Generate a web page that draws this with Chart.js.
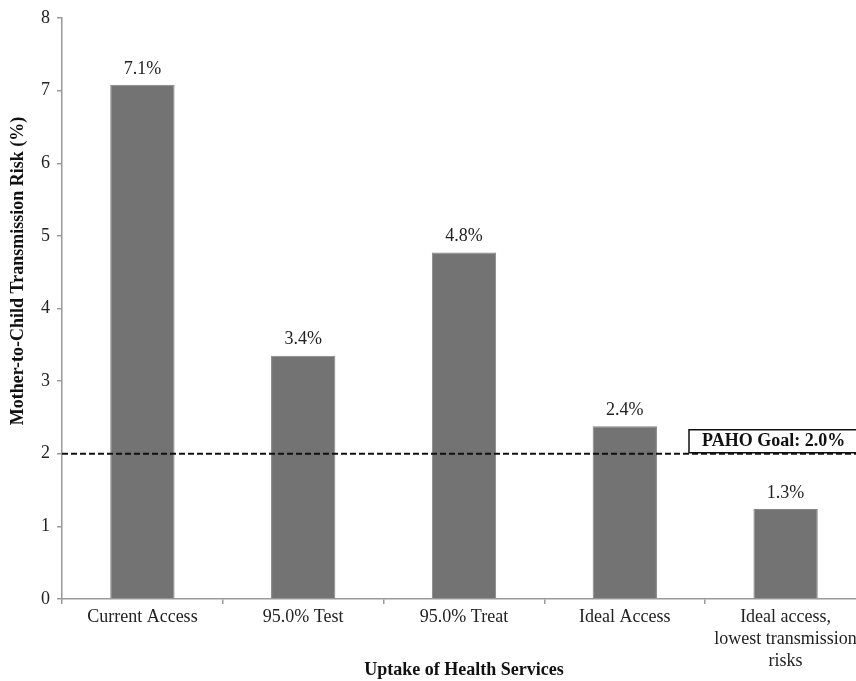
<!DOCTYPE html>
<html>
<head>
<meta charset="utf-8">
<script src="https://cdn.jsdelivr.net/npm/chart.js@4.4.1/dist/chart.umd.min.js"></script>
<style>
  html, body { margin: 0; padding: 0; background: #fff; overflow: hidden; }
  #wrap { width: 856px; height: 681px; overflow: hidden; }
</style>
</head>
<body>
<div id="wrap"><canvas id="chart" width="880" height="681"></canvas></div>
<script>
// categories and values
const categories = [
    'Current Access',
    '95.0% Test',
    '95.0% Treat',
    'Ideal Access',
    ['Ideal access,', 'lowest transmission', 'risks']
];
const riskValues = [7.08, 3.35, 4.77, 2.38, 1.24];
const riskLabels = ['7.1%', '3.4%', '4.8%', '2.4%', '1.3%'];
const yTicks = [0, 1, 2, 3, 4, 5, 6, 7, 8];
const pahoGoal = 2.0;
const pahoText = 'PAHO Goal: 2.0%';

const serif = '"Liberation Serif", "Times New Roman", serif';
const axisGray = '#9a9a9a';

// value labels over the bars
const barLabels = {
    id: 'barLabels',
    afterDatasetsDraw(chart) {
        const ctx = chart.ctx;
        const meta = chart.getDatasetMeta(0);
        ctx.save();
        ctx.font = '18px ' + serif;
        ctx.fillStyle = '#222';
        ctx.textAlign = 'center';
        ctx.textBaseline = 'bottom';
        meta.data.forEach((bar, i) => {
            ctx.fillText(riskLabels[i], bar.x, bar.y - 7);
        });
        ctx.restore();
    }
};

// dashed goal line + boxed label (box runs off the right edge)
const goalLine = {
    id: 'goalLine',
    afterDatasetsDraw(chart) {
        const ctx = chart.ctx;
        const area = chart.chartArea;
        const y = chart.scales.y.getPixelForValue(pahoGoal);
        ctx.save();
        ctx.strokeStyle = '#111';
        ctx.lineWidth = 2;
        ctx.setLineDash([6, 3]);
        ctx.beginPath();
        ctx.moveTo(area.left, y);
        ctx.lineTo(chart.width, y);
        ctx.stroke();
        ctx.setLineDash([]);

        const boxLeft = area.right - 177;
        const top = y - 24;
        ctx.fillStyle = '#fff';
        ctx.fillRect(boxLeft, top, chart.width - boxLeft, 23);
        ctx.lineWidth = 1.5;
        ctx.beginPath();
        ctx.moveTo(chart.width, top);
        ctx.lineTo(boxLeft, top);
        ctx.lineTo(boxLeft, top + 23);
        ctx.lineTo(chart.width, top + 23);
        ctx.stroke();
        ctx.font = 'bold 18px ' + serif;
        ctx.fillStyle = '#111';
        ctx.textAlign = 'left';
        ctx.textBaseline = 'middle';
        ctx.fillText(pahoText, boxLeft + 13, y - 12);
        ctx.restore();
    }
};

// axis titles
const axisTitles = {
    id: 'axisTitles',
    afterDraw(chart) {
        const ctx = chart.ctx;
        const area = chart.chartArea;
        ctx.save();
        ctx.font = 'bold 18px ' + serif;
        ctx.fillStyle = '#111';
        ctx.textAlign = 'center';
        ctx.textBaseline = 'middle';
        ctx.fillText('Uptake of Health Services', (area.left + area.right) / 2, area.bottom + 71);
        ctx.translate(18, 271);
        ctx.rotate(-Math.PI / 2);
        ctx.fillText('Mother-to-Child Transmission Risk (%)', 0, 0);
        ctx.restore();
    }
};

new Chart(document.getElementById('chart'), {
    type: 'bar',
    data: {
        labels: categories,
        datasets: [{
            data: riskValues,
            backgroundColor: '#737373',
            borderColor: '#858585',
            borderWidth: 1,
            barPercentage: 0.4,
            categoryPercentage: 1.0
        }]
    },
    options: {
        responsive: false,
        animation: false,
        devicePixelRatio: 1,
        layout: { padding: { left: 0, top: 18, right: 14, bottom: 0 } },
        plugins: {
            legend: { display: false },
            tooltip: { enabled: false }
        },
        scales: {
            x: {
                offset: true,
                grid: {
                    offset: true,
                    drawOnChartArea: false,
                    drawTicks: true,
                    tickLength: 5,
                    color: axisGray,
                    lineWidth: 1.5
                },
                border: { display: true, color: axisGray, width: 1.5 },
                ticks: {
                    color: '#222',
                    font: { family: serif, size: 18, lineHeight: 1.22 },
                    padding: 2,
                    maxRotation: 0,
                    autoSkip: false
                },
                afterFit(scale) { scale.height = 82; }
            },
            y: {
                min: 0,
                max: 8,
                afterBuildTicks(scale) {
                    scale.ticks = yTicks.map(v => ({ value: v }));
                },
                grid: {
                    drawOnChartArea: false,
                    drawTicks: true,
                    tickLength: 5,
                    color: axisGray,
                    lineWidth: 1.5
                },
                border: { display: true, color: axisGray, width: 1.5 },
                ticks: {
                    color: '#222',
                    font: { family: serif, size: 18 },
                    padding: 7
                },
                afterFit(scale) { scale.width = 62; }
            }
        }
    },
    plugins: [barLabels, goalLine, axisTitles]
});
</script>
</body>
</html>
